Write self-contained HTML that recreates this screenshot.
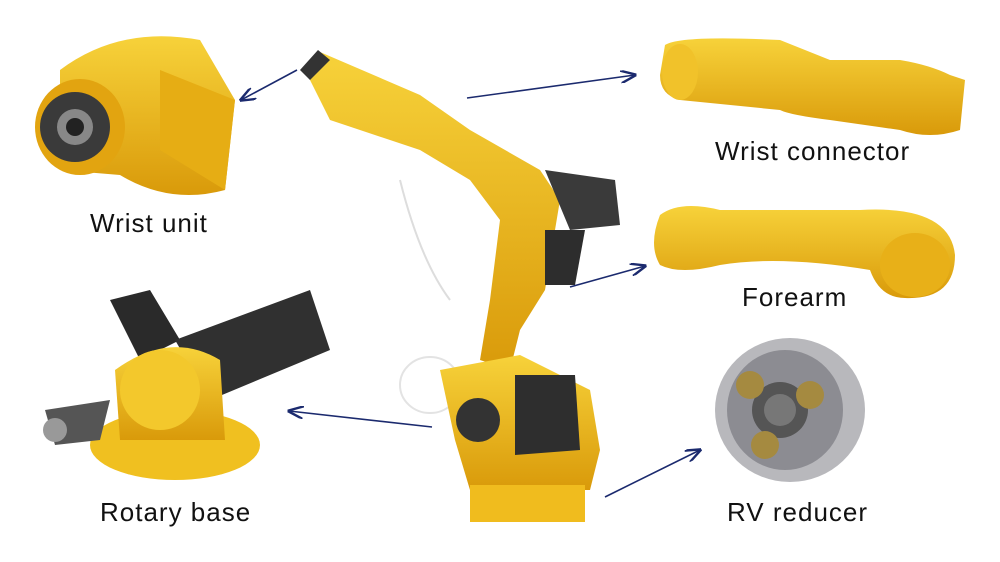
<!DOCTYPE html>
<html><head><meta charset="utf-8"><style>
html,body{margin:0;padding:0;background:#fff;}
.w{position:relative;width:1000px;height:562px;overflow:hidden;background:#fff;font-family:"Liberation Sans",sans-serif;}
.l{position:absolute;font-size:26px;color:#111;letter-spacing:1px;white-space:nowrap;font-weight:500;}
</style></head><body><div class="w">
<svg width="1000" height="562" style="position:absolute;left:0;top:0">
<defs>
<marker id="a" markerWidth="10" markerHeight="8" refX="9" refY="4" orient="auto"><path d="M0,0 L10,4 L0,8" fill="none" stroke="#1b2a6e" stroke-width="1.5"/></marker>
<linearGradient id="y" x1="0" y1="0" x2="0" y2="1"><stop offset="0" stop-color="#f7d23a"/><stop offset="1" stop-color="#d99a0a"/></linearGradient>
</defs>
<path d="M400,180 Q420,260 450,300" fill="none" stroke="#ddd" stroke-width="2"/>
<ellipse cx="430" cy="385" rx="30" ry="28" fill="none" stroke="#e3e3e3" stroke-width="2"/>
<path d="M60,70 Q120,25 200,40 L235,100 L225,190 Q170,205 120,175 L60,170 Z" fill="url(#y)"/>
<path d="M160,70 L235,100 L225,190 L160,150 Z" fill="#e6ad14"/>
<ellipse cx="80" cy="127" rx="45" ry="48" fill="#e2a410"/>
<circle cx="75" cy="127" r="35" fill="#3a3a3a"/>
<circle cx="75" cy="127" r="18" fill="#888"/>
<circle cx="75" cy="127" r="9" fill="#222"/>
<path d="M665,45 Q680,35 780,40 L830,60 L900,60 Q930,65 950,75 L965,80 L960,130 Q930,140 900,130 L830,120 Q790,115 780,110 L680,100 Q660,95 660,75 Z" fill="url(#y)"/>
<ellipse cx="680" cy="72" rx="18" ry="28" fill="#f1c22a"/>
<path d="M660,215 Q680,200 720,210 L860,210 Q950,205 955,255 Q955,300 905,298 Q880,298 870,270 Q780,255 720,265 Q680,275 660,265 Q648,245 660,215 Z" fill="url(#y)"/>
<ellipse cx="915" cy="265" rx="35" ry="32" fill="#e8b018"/>
<path d="M110,300 L150,290 L180,340 L140,360 Z" fill="#2a2a2a"/>
<path d="M175,340 L310,290 L330,350 L210,400 Z" fill="#303030"/>
<ellipse cx="175" cy="445" rx="85" ry="35" fill="#f0c020"/>
<path d="M115,370 Q170,330 220,360 L225,440 L120,440 Z" fill="url(#y)"/>
<circle cx="160" cy="390" r="40" fill="#f3c82c"/>
<path d="M45,410 L110,400 L100,440 L55,445 Z" fill="#555"/>
<circle cx="55" cy="430" r="12" fill="#999"/>
<ellipse cx="790" cy="410" rx="75" ry="72" fill="#b8b8bc"/>
<ellipse cx="785" cy="410" rx="58" ry="60" fill="#8c8c92"/>
<circle cx="780" cy="410" r="28" fill="#555"/>
<circle cx="780" cy="410" r="16" fill="#777"/>
<circle cx="750" cy="385" r="14" fill="#a58a40"/>
<circle cx="810" cy="395" r="14" fill="#a58a40"/>
<circle cx="765" cy="445" r="14" fill="#a58a40"/>
<path d="M305,70 L320,52 L420,95 L470,130 L540,170 L560,200 L545,290 L520,330 L510,370 L480,360 L490,300 L500,220 L470,180 L420,150 L330,120 Z" fill="url(#y)"/>
<path d="M300,70 L318,50 L330,60 L310,80 Z" fill="#333"/>
<path d="M545,170 L615,180 L620,225 L570,230 Z" fill="#3a3a3a"/>
<path d="M545,230 L585,230 L575,285 L545,285 Z" fill="#2d2d2d"/>
<path d="M440,370 L520,355 L590,390 L600,450 L590,490 L470,490 L455,440 Z" fill="url(#y)"/>
<path d="M515,375 L575,375 L580,450 L515,455 Z" fill="#2e2e2e"/>
<circle cx="478" cy="420" r="22" fill="#333"/>
<rect x="470" y="485" width="115" height="37" fill="#f0bc1e"/>
<g stroke="#1b2a6e" stroke-width="1.6" marker-end="url(#a)">
<line x1="297" y1="70" x2="241" y2="100"/>
<line x1="467" y1="98" x2="635" y2="75"/>
<line x1="570" y1="287" x2="645" y2="266"/>
<line x1="432" y1="427" x2="289" y2="411"/>
<line x1="605" y1="497" x2="700" y2="450"/>
</g>
</svg>
<div class="l" style="left:90px;top:208px">Wrist unit</div>
<div class="l" style="left:715px;top:136px">Wrist connector</div>
<div class="l" style="left:742px;top:282px">Forearm</div>
<div class="l" style="left:100px;top:497px">Rotary base</div>
<div class="l" style="left:727px;top:497px">RV reducer</div>
</div></body></html>
